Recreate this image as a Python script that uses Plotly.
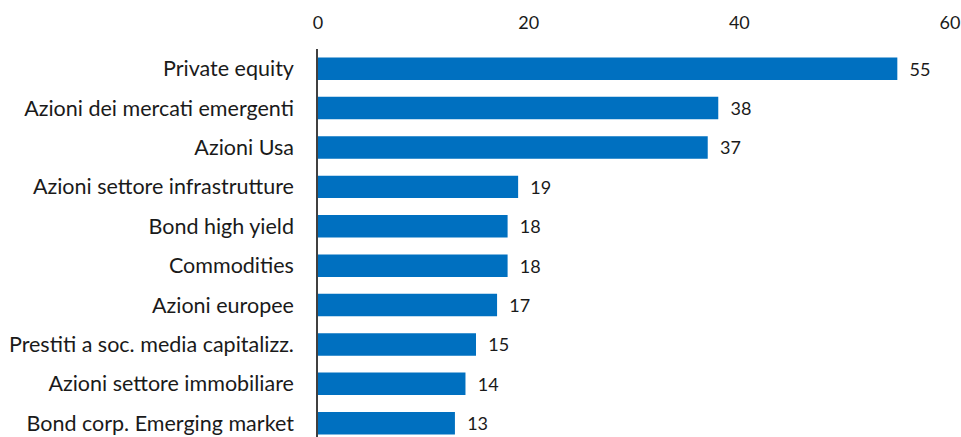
import plotly.graph_objects as go

categories = [
    "Private equity",
    "Azioni dei mercati emergenti",
    "Azioni Usa",
    "Azioni settore infrastrutture",
    "Bond high yield",
    "Commodities",
    "Azioni europee",
    "Prestiti a soc. media capitalizz.",
    "Azioni settore immobiliare",
    "Bond corp. Emerging market",
]
values = [55, 38, 37, 19, 18, 18, 17, 15, 14, 13]
x_ticks = [0, 20, 40, 60]

FONT = "Lato"

fig = go.Figure(
    go.Bar(
        x=values,
        y=list(range(len(categories))),
        orientation="h",
        marker=dict(color="#0070C0", line=dict(width=0)),
        text=[str(v) for v in values],
        texttemplate="  %{text}",
        textposition="outside",
        textfont=dict(family=FONT, size=18, color="#1a1a1a"),
        cliponaxis=False,
        width=0.57,
    )
)

fig.update_layout(
    width=961,
    height=437,
    margin=dict(l=317.5, r=10.5, t=49, b=0),
    paper_bgcolor="white",
    plot_bgcolor="white",
    showlegend=False,
    font=dict(family=FONT, size=18, color="#1a1a1a"),
    xaxis=dict(
        side="top",
        range=[0, 60],
        tickvals=x_ticks,
        ticktext=[str(t) for t in x_ticks],
        showgrid=False,
        zeroline=False,
        showline=False,
        ticks="",
        ticklabelstandoff=15,
        tickfont=dict(family=FONT, size=18, color="#1a1a1a"),
    ),
    yaxis=dict(
        range=[9.35, -0.5],
        tickvals=list(range(len(categories))),
        ticktext=categories,
        showgrid=False,
        zeroline=False,
        showline=True,
        linecolor="#404040",
        linewidth=1.5,
        ticks="",
        ticklabelstandoff=18,
        tickfont=dict(family=FONT, size=21.5, color="#1a1a1a"),
    ),
)

fig.write_html("out.html")
